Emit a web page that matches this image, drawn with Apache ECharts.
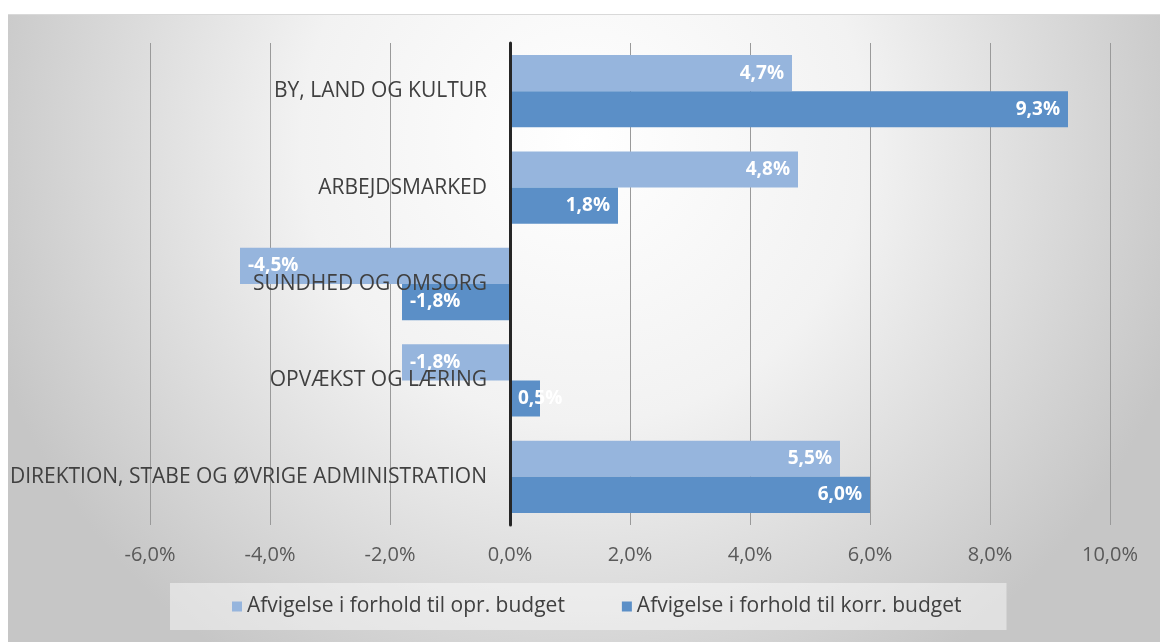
<!DOCTYPE html>
<html>
<head>
<meta charset="utf-8">
<script src="https://cdn.jsdelivr.net/npm/echarts@6/dist/echarts.min.js"></script>
<style>
  html, body { margin: 0; padding: 0; background: #ffffff; }
  #chart { width: 1160px; height: 642px; }
</style>
</head>
<body>
<div id="chart"></div>
<script>
// data
var categories = [
  "BY, LAND OG KULTUR",
  "ARBEJDSMARKED",
  "SUNDHED OG OMSORG",
  "OPVÆKST OG LÆRING",
  "DIREKTION, STABE OG ØVRIGE ADMINISTRATION"
];
var seriesNames = [
  "Afvigelse i forhold til opr. budget",
  "Afvigelse i forhold til korr. budget"
];
var oprValues = [4.7, 4.8, -4.5, -1.8, 5.5];
var korrValues = [9.3, 1.8, -1.8, 0.5, 6.0];
var xMin = -6, xMax = 10, xStep = 2;

function pct(v) {
  return v.toFixed(1).replace(".", ",") + "%";
}

// label sits at the bar end (left end for negatives), tiny bars start from the axis
function withLabels(values) {
  return values.map(function (v) {
    var pos = v < 0 ? "insideLeft" : "insideRight";
    if (v >= 0 && v < 1) pos = "insideLeft";
    return { value: v, label: { position: pos } };
  });
}

var gridLeft = 150, gridRight = 50;
var plotWidth = 1160 - gridLeft - gridRight;
// move the category axis (line + labels) to the 0 position of the value axis
var zeroOffset = (0 - xMin) / (xMax - xMin) * plotWidth;

var chart = echarts.init(document.getElementById("chart"));

var option = {
  backgroundColor: "#ffffff",
  textStyle: { fontFamily: "Open Sans" },
  graphic: [
    {
      type: "rect",
      left: 8, top: 14, z: -10,
      shape: { width: 1152, height: 628 },
      style: {
        fill: new echarts.graphic.RadialGradient(0.5, 0.2, 1.0, [
          { offset: 0, color: "#ffffff" },
          { offset: 0.45, color: "#f2f2f2" },
          { offset: 1, color: "#c6c6c6" }
        ])
      }
    },
    {
      type: "line", z: -9,
      shape: { x1: 8, y1: 14.5, x2: 1160, y2: 14.5 },
      style: { stroke: "#d9d9d9", lineWidth: 1 }
    }
  ],
  grid: {
    left: gridLeft, right: gridRight, top: 43, bottom: 117,
    containLabel: false,
    outerBoundsMode: "none"
  },
  legend: {
    data: seriesNames,
    left: 170,
    top: 583,
    padding: [13, 45, 13, 62],
    itemGap: 57,
    itemWidth: 10,
    itemHeight: 10,
    icon: "rect",
    backgroundColor: "rgba(255,255,255,0.45)",
    textStyle: { color: "#404040", fontSize: 21, fontFamily: "Open Sans" }
  },
  xAxis: {
    type: "value",
    min: xMin,
    max: xMax,
    interval: xStep,
    axisLine: { show: false },
    axisTick: { show: false },
    splitLine: { show: true, lineStyle: { color: "#9a9a9a", width: 1 } },
    axisLabel: {
      margin: 20,
      color: "#595959",
      fontSize: 20,
      formatter: function (v) { return pct(v); }
    }
  },
  yAxis: {
    type: "category",
    data: categories,
    inverse: true,
    z: 6,
    offset: -zeroOffset,
    axisLine: { onZero: false, lineStyle: { color: "#262626", width: 3 } },
    axisTick: { show: false },
    axisLabel: { margin: 23, color: "#404040", fontSize: 21 }
  },
  series: [
    {
      name: seriesNames[0],
      type: "bar",
      barGap: "0%",
      barCategoryGap: "25%",
      itemStyle: { color: "#96b5dd" },
      label: {
        show: true,
        color: "#ffffff",
        fontWeight: "bold",
        fontSize: 19,
        distance: 8,
        formatter: function (p) { return pct(p.value); }
      },
      data: withLabels(oprValues)
    },
    {
      name: seriesNames[1],
      type: "bar",
      barGap: "0%",
      barCategoryGap: "25%",
      itemStyle: { color: "#5b8fc7" },
      label: {
        show: true,
        color: "#ffffff",
        fontWeight: "bold",
        fontSize: 19,
        distance: 8,
        formatter: function (p) { return pct(p.value); }
      },
      data: withLabels(korrValues)
    }
  ]
};

chart.setOption(option);
</script>
</body>
</html>
